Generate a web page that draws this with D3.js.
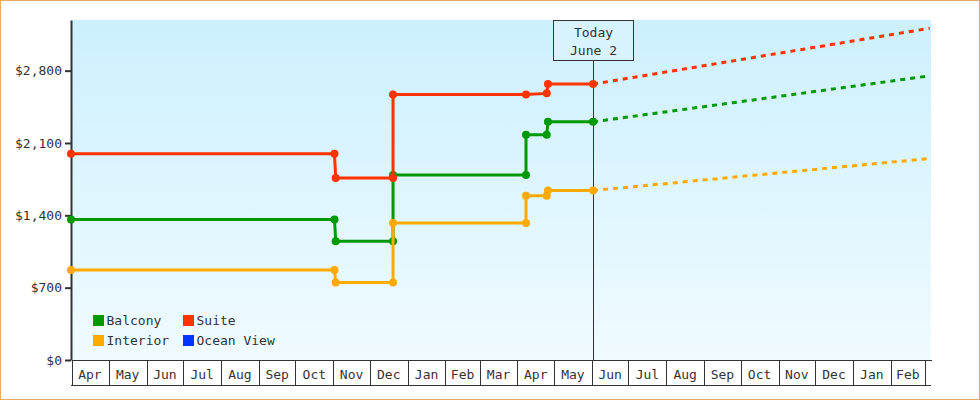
<!DOCTYPE html>
<html>
<head>
<meta charset="utf-8">
<script src="https://cdn.jsdelivr.net/npm/d3@7"></script>
<style>
body { margin: 0; background: #fff; }
text { font-family: "DejaVu Sans Mono", monospace; font-size: 13px; fill: #333; }
</style>
</head>
<body>
<div id="chart"></div>
<script>
const parse = d3.timeParse("%Y-%m-%d");

// price history
const seriesNames = ["Balcony", "Suite", "Interior", "Ocean View"];
const seriesColors = ["#009900", "#ff3300", "#ffaa00", "#0033ff"];

const balconyDates = ["2017-03-31", "2017-11-02", "2017-11-03", "2017-12-20", "2017-12-20", "2018-04-08", "2018-04-08", "2018-04-25", "2018-04-26", "2018-06-02"];
const balconyPrices = [1360, 1360, 1150, 1150, 1790, 1790, 2180, 2180, 2305, 2305];

const suiteDates = ["2017-03-31", "2017-11-02", "2017-11-03", "2017-12-20", "2017-12-20", "2018-04-08", "2018-04-25", "2018-04-26", "2018-06-02"];
const suitePrices = [1995, 1995, 1760, 1760, 2570, 2570, 2580, 2670, 2670];

const interiorDates = ["2017-03-31", "2017-11-02", "2017-11-03", "2017-12-20", "2017-12-20", "2018-04-08", "2018-04-08", "2018-04-25", "2018-04-26", "2018-06-02"];
const interiorPrices = [870, 870, 750, 750, 1325, 1325, 1590, 1590, 1640, 1640];

const oceanViewDates = [];
const oceanViewPrices = [];

// forecast (dashed)
const forecastDates = ["2018-06-02", "2019-03-05"];
const balconyForecast = [2305, 2750];
const suiteForecast = [2670, 3210];
const interiorForecast = [1640, 1950];
const oceanViewForecast = [];

const todayDate = "2018-06-02";
const todayLabel = ["Today", "June 2"];

const xDomain = ["2017-03-31", "2019-03-06"];
const yMax = 3290;
const yTicks = [0, 700, 1400, 2100, 2800];

const history = [
    [balconyDates, balconyPrices],
    [suiteDates, suitePrices],
    [interiorDates, interiorPrices],
    [oceanViewDates, oceanViewPrices]
];
const forecasts = [balconyForecast, suiteForecast, interiorForecast, oceanViewForecast];

const W = 980, H = 400;
const margin = { top: 20, right: 49, bottom: 40, left: 71 };
const width = W - margin.left - margin.right;
const height = H - margin.top - margin.bottom;

const svg = d3.select("#chart").append("svg")
    .attr("width", W)
    .attr("height", H);

// outer frame
svg.append("rect")
    .attr("x", 0.5).attr("y", 0.5)
    .attr("width", W - 1).attr("height", H - 1)
    .attr("fill", "#fff")
    .attr("stroke", "#e5aa66");

const grad = svg.append("defs").append("linearGradient")
    .attr("id", "bg")
    .attr("x1", 0).attr("y1", 0).attr("x2", 0).attr("y2", 1);
grad.append("stop").attr("offset", "0%").attr("stop-color", "#ccf0fd");
grad.append("stop").attr("offset", "100%").attr("stop-color", "#f0fbff");

const g = svg.append("g")
    .attr("transform", "translate(" + margin.left + "," + margin.top + ")");

g.append("rect")
    .attr("width", width)
    .attr("height", height)
    .attr("fill", "url(#bg)");

const x = d3.scaleTime()
    .domain(xDomain.map(parse))
    .range([0, width]);

const y = d3.scaleLinear()
    .domain([0, yMax])
    .range([height, 0]);

// month cells along the bottom
const months = d3.timeMonth.range(d3.timeMonth.ceil(x.domain()[0]), x.domain()[1]);

const xAxis = g.append("g")
    .attr("transform", "translate(0," + height + ")")
    .call(d3.axisBottom(x).tickValues(months).tickSize(25).tickSizeOuter(0).tickFormat(""));
xAxis.select(".domain").attr("stroke", "#333").attr("shape-rendering", "crispEdges");
xAxis.selectAll(".tick line").attr("stroke", "#333").attr("shape-rendering", "crispEdges");

g.append("line")
    .attr("x1", 0).attr("x2", width)
    .attr("y1", height + 25.5).attr("y2", height + 25.5)
    .attr("stroke", "#333");

// labels sit in the middle of each full month cell (first cell takes the sliver before it)
const cells = months.slice(0, -1).map((m, i) => ({
    month: m,
    start: i === 0 ? x.domain()[0] : m,
    end: months[i + 1]
}));
g.append("g")
    .selectAll("text")
    .data(cells)
  .enter().append("text")
    .attr("x", d => (x(d.start) + x(d.end)) / 2)
    .attr("y", height + 18.5)
    .attr("text-anchor", "middle")
    .text(d => d3.timeFormat("%b")(d.month));

// y axis
const yAxis = g.append("g")
    .call(d3.axisLeft(y).tickValues(yTicks).tickSize(6).tickSizeOuter(0)
        .tickFormat(d => "$" + d3.format(",")(d)));
yAxis.select(".domain").attr("stroke", "#333").attr("stroke-width", 2);
yAxis.selectAll(".tick line").attr("stroke", "#333").attr("stroke-width", 2);
yAxis.selectAll(".tick text")
    .attr("x", -9)
    .style("font-family", "'DejaVu Sans Mono', monospace")
    .style("font-size", "13px")
    .attr("fill", "#333");

// today marker
const tx = Math.round(x(parse(todayDate))) + 0.5;
g.append("line")
    .attr("x1", tx).attr("x2", tx)
    .attr("y1", 40).attr("y2", height)
    .attr("stroke", "#333");
g.append("rect")
    .attr("x", tx - 40).attr("y", 0.5)
    .attr("width", 80).attr("height", 40)
    .attr("fill", "rgba(255,255,255,0.2)")
    .attr("stroke", "#333");
g.selectAll(".today-label")
    .data(todayLabel)
  .enter().append("text")
    .attr("class", "today-label")
    .attr("x", tx)
    .attr("y", (d, i) => 17 + i * 18)
    .attr("text-anchor", "middle")
    .text(d => d);

const line = d3.line()
    .x(d => x(d[0]))
    .y(d => y(d[1]));

// dashed forecasts
forecasts.forEach((vals, i) => {
    if (!vals.length) return;
    const pts = vals.map((v, j) => [parse(forecastDates[j]), v]);
    g.append("path")
        .datum(pts)
        .attr("d", line)
        .attr("fill", "none")
        .attr("stroke", seriesColors[i])
        .attr("stroke-width", 3)
        .attr("stroke-dasharray", "5,5");
});

// solid history lines + dots
history.forEach((s, i) => {
    if (!s[0].length) return;
    const pts = s[0].map((d, j) => [parse(d), s[1][j]]);
    g.append("path")
        .datum(pts)
        .attr("d", line)
        .attr("fill", "none")
        .attr("stroke", seriesColors[i])
        .attr("stroke-width", 3);
    g.selectAll(".dot" + i)
        .data(pts)
      .enter().append("circle")
        .attr("cx", d => x(d[0]))
        .attr("cy", d => y(d[1]))
        .attr("r", 4)
        .attr("fill", seriesColors[i]);
});

// legend
const legend = g.selectAll(".legend")
    .data(seriesNames)
  .enter().append("g")
    .attr("class", "legend")
    .attr("transform", (d, i) => "translate(" + (22 + (i % 2) * 90) + "," + (295 + Math.floor(i / 2) * 20) + ")");

legend.append("rect")
    .attr("width", 11)
    .attr("height", 11)
    .attr("fill", (d, i) => seriesColors[i]);

legend.append("text")
    .attr("x", 13.5)
    .attr("y", 10)
    .text(d => d);
</script>
</body>
</html>
